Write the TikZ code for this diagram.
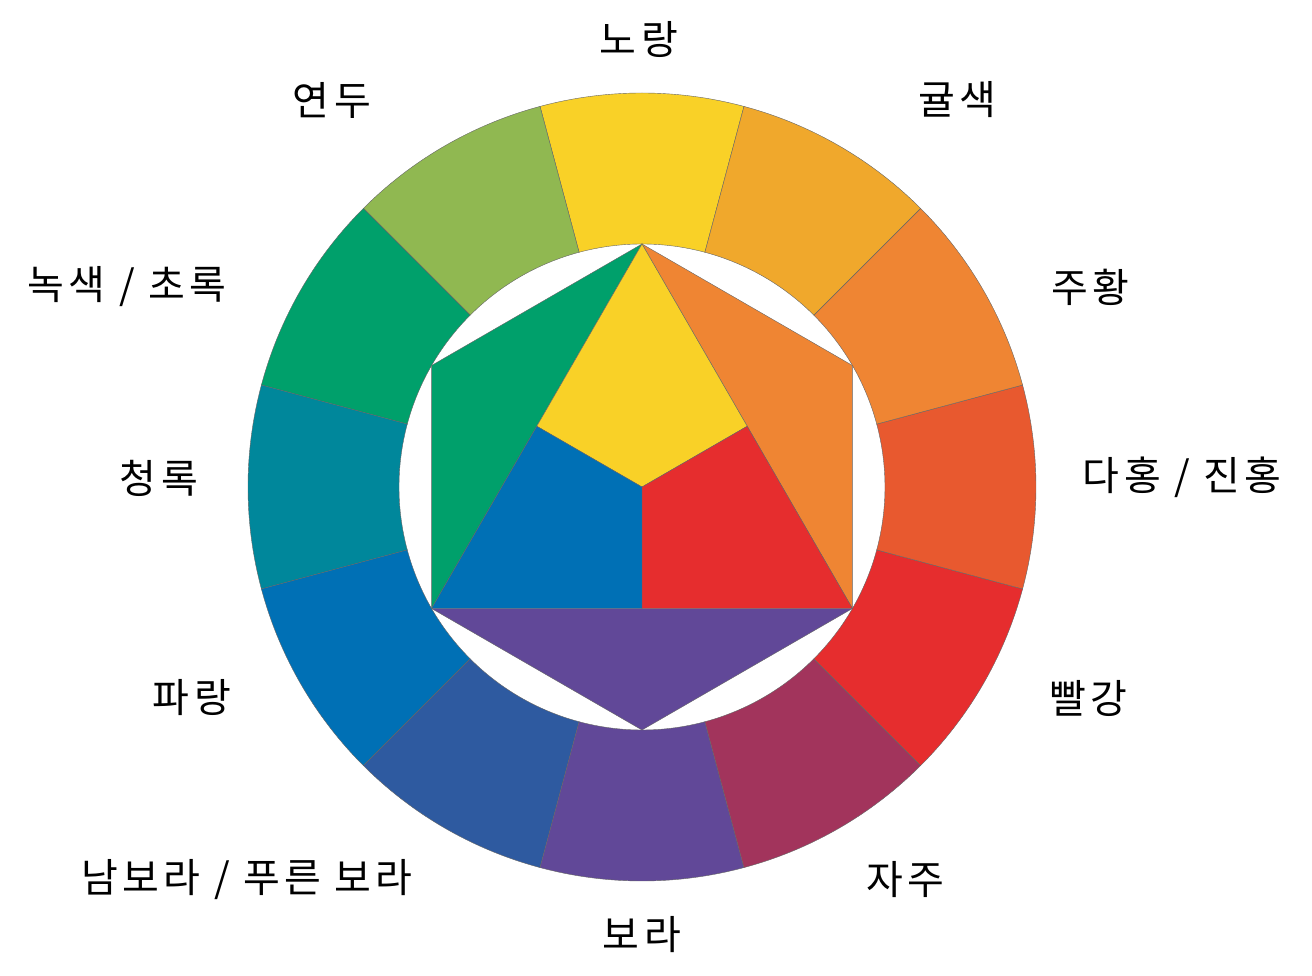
\documentclass[tikz,border=0pt]{standalone}
\usepackage{fontspec}
\setmainfont{Noto Sans CJK KR}[LetterSpace=11]
\usetikzlibrary{calc}
\definecolor{cY}{RGB}{249,209,39}
\definecolor{cYO}{RGB}{240,168,44}
\definecolor{cO}{RGB}{239,133,51}
\definecolor{cRO}{RGB}{232,89,47}
\definecolor{cR}{RGB}{230,45,46}
\definecolor{cRV}{RGB}{162,52,92}
\definecolor{cV}{RGB}{97,72,152}
\definecolor{cBV}{RGB}{46,90,160}
\definecolor{cB}{RGB}{0,112,181}
\definecolor{cBG}{RGB}{0,135,155}
\definecolor{cG}{RGB}{0,160,107}
\definecolor{cYG}{RGB}{144,184,81}
\begin{document}
\begin{tikzpicture}[x=1pt,y=1pt,
  seg/.style={draw=black!60,line width=0.4pt},
  lbl/.style={inner sep=0pt,font=\fontsize{40}{48}\selectfont}]
\useasboundingbox (-642,-489) rectangle (670,487);
\foreach \c [count=\i from 0] in {cY,cYG,cG,cBG,cB,cBV,cV,cRV,cR,cRO,cO,cYO} {
  \pgfmathsetmacro\a{75+30*\i}
  \pgfmathsetmacro\b{105+30*\i}
  \filldraw[seg,fill=\c] (\a:243) -- (\a:394) arc[start angle=\a,end angle=\b,radius=394] -- (\b:243) arc[start angle=\b,end angle=\a,radius=243] -- cycle;
}
\coordinate (O) at (0,0);
\coordinate (T) at (90:243);
\coordinate (UR) at (30:243);
\coordinate (R) at (-30:243);
\coordinate (B) at (-90:243);
\coordinate (L) at (-150:243);
\coordinate (UL) at (150:243);
\coordinate (MR) at ($(T)!.5!(R)$);
\coordinate (ML) at ($(T)!.5!(L)$);
\coordinate (MB) at ($(L)!.5!(R)$);
\filldraw[seg,fill=cO] (T) -- (UR) -- (R) -- cycle;
\filldraw[seg,fill=cG] (T) -- (UL) -- (L) -- cycle;
\filldraw[seg,fill=cV] (L) -- (R) -- (B) -- cycle;
\filldraw[seg,fill=cY] (T) -- (MR) -- (O) -- (ML) -- cycle;
\filldraw[seg,fill=cR] (O) -- (MR) -- (R) -- (MB) -- cycle;
\filldraw[seg,fill=cB] (O) -- (MB) -- (L) -- (ML) -- cycle;
\node[lbl] (nY) at (-3,447) {노랑};
\node[lbl] (nYO) at (315,387) {귤색};
\node[lbl] (nO) at (448,200) {주황};
\node[lbl] (nRO) at (540,10) {다홍 / 진홍};
\node[lbl] (nR) at (446,-211) {빨강};
\node[lbl] (nRV) at (263,-393) {자주};
\node[lbl] (nV) at (0,-448) {보라};
\node[lbl] (nBV) at (-395,-393) {남보라 / 푸른 보라};
\node[lbl] (nB) at (-450,-211) {파랑};
\node[lbl] (nBG) at (-483,9) {청록};
\node[lbl] (nG) at (-515,200) {녹색 / 초록};
\node[lbl] (nYG) at (-310,387) {연두};
\end{tikzpicture}
\end{document}
